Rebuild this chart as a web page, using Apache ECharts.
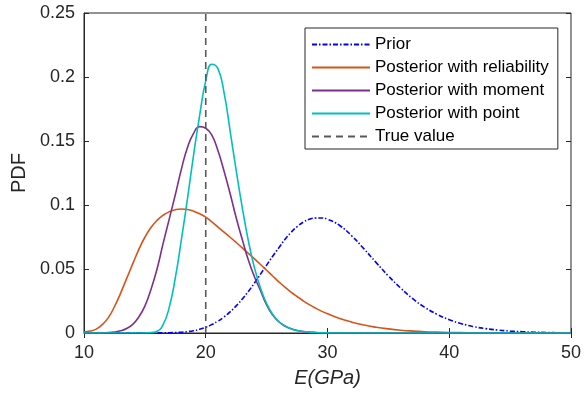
<!DOCTYPE html>
<html>
<head>
<meta charset="utf-8">
<script src="https://cdn.jsdelivr.net/npm/echarts@6/dist/echarts.min.js"></script>
<style>
  html, body { margin: 0; padding: 0; background: #ffffff; }
  #chart { width: 584px; height: 398px; }
</style>
</head>
<body>
<div id="chart"></div>
<script>
// Elastic modulus grid (GPa): 0.5 steps up to 30, then 1 GPa steps
const energyGPa = [
  10, 10.5, 11, 11.5, 12, 12.5, 13, 13.5, 14, 14.5,
  15, 15.5, 16, 16.5, 17, 17.5, 18, 18.5, 19, 19.5,
  20, 20.5, 21, 21.5, 22, 22.5, 23, 23.5, 24, 24.5,
  25, 25.5, 26, 26.5, 27, 27.5, 28, 28.5, 29, 29.5,
  30, 31, 32, 33, 34, 35, 36, 37, 38, 39,
  40, 41, 42, 43, 44, 45, 46, 47, 48, 49, 50
];

// Probability densities on the grid above
const priorPdf = [
  0, 0, 0, 0, 0, 0, 0, 0, 0, 0,
  0, 0, 0.0001, 0.0001, 0.0002, 0.0004, 0.0006, 0.0011, 0.0018, 0.0029,
  0.0045, 0.0066, 0.0092, 0.0125, 0.0165, 0.0212, 0.0265, 0.0325, 0.039, 0.046,
  0.053, 0.060, 0.0665, 0.073, 0.0785, 0.083, 0.0865, 0.0888, 0.0898, 0.0899,
  0.0888, 0.0840, 0.0758, 0.0657, 0.0550, 0.0446, 0.0352, 0.0268, 0.0200, 0.0146,
  0.0104, 0.0073, 0.0050, 0.0034, 0.0023, 0.0015, 0.0010, 0.0006, 0.0004, 0.0002, 0.0001
];

const reliabilityPdf = [
  0.0008, 0.0015, 0.003, 0.0065, 0.012, 0.0205, 0.031, 0.0425, 0.054, 0.0652,
  0.0748, 0.0824, 0.0880, 0.0920, 0.0947, 0.0963, 0.0969, 0.0965, 0.0951, 0.0932,
  0.0905, 0.0868, 0.0828, 0.0788, 0.0748, 0.0707, 0.0665, 0.0622, 0.0579, 0.0535,
  0.0490, 0.0445, 0.0400, 0.0358, 0.0320, 0.0285, 0.0252, 0.0222, 0.0195, 0.0171,
  0.0150, 0.0114, 0.0085, 0.0062, 0.0045, 0.0032, 0.0022, 0.0015, 0.0010, 0.0007,
  0.0004, 0.0003, 0.0002, 0.0001, 0, 0, 0, 0, 0, 0, 0
];

const momentPdf = [
  0, 0, 0, 0.0001, 0.0003, 0.0008, 0.0017, 0.0035, 0.0068, 0.0125,
  0.021, 0.034, 0.050, 0.070, 0.089, 0.108, 0.128, 0.145, 0.156, 0.1612,
  0.1600, 0.1545, 0.1425, 0.1265, 0.109, 0.090, 0.073, 0.057, 0.044, 0.033,
  0.022, 0.0140, 0.0088, 0.0055, 0.0033, 0.0020, 0.0012, 0.0007, 0.0004, 0.0002,
  0.0001, 0, 0, 0, 0, 0, 0, 0, 0, 0,
  0, 0, 0, 0, 0, 0, 0, 0, 0, 0, 0
];

const pointPdf = [
  0, 0, 0, 0, 0, 0, 0, 0, 0, 0,
  0, 0.0003, 0.0013, 0.0065, 0.020, 0.043, 0.073, 0.105, 0.139, 0.170,
  0.197, 0.2100, 0.2065, 0.188, 0.158, 0.127, 0.098, 0.072, 0.051, 0.035,
  0.023, 0.0145, 0.0090, 0.0056, 0.0034, 0.0020, 0.0012, 0.0007, 0.0004, 0.0002,
  0.0001, 0, 0, 0, 0, 0, 0, 0, 0, 0,
  0, 0, 0, 0, 0, 0, 0, 0, 0, 0, 0
];

const trueValue = 20;
const trueValueSpan = [0, 0.25];

const seriesNames = [
  'Prior',
  'Posterior with reliability',
  'Posterior with moment',
  'Posterior with point',
  'True value'
];

const xTickLabels = ['10', '20', '30', '40', '50'];
const yTickLabels = ['0', '0.05', '0.1', '0.15', '0.2', '0.25'];

const FONT = 'Liberation Sans, Arial, Helvetica, sans-serif';
const AXIS_COLOR = '#262626';

function pairs(values) {
  return energyGPa.map((e, i) => [e, values[i]]);
}

function curve(name, values, color, type) {
  return {
    name: name,
    type: 'line',
    data: pairs(values),
    smooth: 0.5,
    symbol: 'none',
    showSymbol: false,
    lineStyle: { color: color, width: 1.6, type: type || 'solid' },
    itemStyle: { color: color },
    emphasis: { disabled: true },
    silent: true,
    animation: false
  };
}

const hiddenTickAxis = {
  axisLine: { show: false },
  axisLabel: { show: false },
  splitLine: { show: false },
  axisTick: { show: true, inside: true, length: 5, lineStyle: { color: AXIS_COLOR, width: 1 } }
};

const chart = echarts.init(document.getElementById('chart'), null, { renderer: 'canvas' });

chart.setOption({
  animation: false,
  backgroundColor: '#ffffff',
  grid: {
    left: 84, right: 11, top: 13, bottom: 65,
    show: true, borderColor: AXIS_COLOR, borderWidth: 1, backgroundColor: '#ffffff'
  },
  legend: {
    data: seriesNames,
    orient: 'vertical',
    left: 305,
    top: 28,
    padding: [8, 9, 4, 6],
    itemWidth: 58,
    itemHeight: 14,
    itemGap: 6,
    borderColor: AXIS_COLOR,
    borderWidth: 1,
    backgroundColor: '#ffffff',
    selectedMode: false,
    itemStyle: { opacity: 0 },
    textStyle: { fontFamily: FONT, fontSize: 17, color: '#000000', lineHeight: 17 }
  },
  xAxis: [
    {
      type: 'value',
      min: 10, max: 50, interval: 10,
      name: 'E(GPa)',
      nameLocation: 'middle',
      nameGap: 35,
      nameTextStyle: { fontFamily: FONT, fontSize: 20, fontStyle: 'italic', color: AXIS_COLOR },
      axisLine: { show: true, onZero: false, lineStyle: { color: AXIS_COLOR, width: 1 } },
      axisTick: { show: true, inside: true, length: 5, lineStyle: { color: AXIS_COLOR, width: 1 } },
      axisLabel: {
        fontFamily: FONT, fontSize: 18, color: AXIS_COLOR, margin: 11,
        formatter: v => xTickLabels[Math.round((v - 10) / 10)]
      },
      splitLine: { show: false }
    },
    Object.assign({ type: 'value', position: 'top', min: 10, max: 50, interval: 10 }, hiddenTickAxis)
  ],
  yAxis: [
    {
      type: 'value',
      min: 0, max: 0.25, interval: 0.05,
      name: 'PDF',
      nameLocation: 'middle',
      nameGap: 53,
      nameTextStyle: { fontFamily: FONT, fontSize: 20, color: AXIS_COLOR },
      axisLine: { show: true, onZero: false, lineStyle: { color: AXIS_COLOR, width: 1 } },
      axisTick: { show: true, inside: true, length: 5, lineStyle: { color: AXIS_COLOR, width: 1 } },
      axisLabel: {
        fontFamily: FONT, fontSize: 18, color: AXIS_COLOR, margin: 9,
        formatter: v => yTickLabels[Math.round(v / 0.05)]
      },
      splitLine: { show: false }
    },
    Object.assign({ type: 'value', position: 'right', min: 0, max: 0.25, interval: 0.05 }, hiddenTickAxis)
  ],
  series: [
    curve(seriesNames[0], priorPdf, '#0000ff', [5, 2, 1.5, 2]),
    curve(seriesNames[1], reliabilityPdf, '#d95319'),
    curve(seriesNames[2], momentPdf, '#7e2f8e'),
    curve(seriesNames[3], pointPdf, '#00bfbf'),
    {
      name: seriesNames[4],
      type: 'line',
      data: trueValueSpan.map(y => [trueValue, y]),
      symbol: 'none',
      showSymbol: false,
      lineStyle: { color: '#595959', width: 1.6, type: [7, 5] },
      itemStyle: { color: '#595959' },
      emphasis: { disabled: true },
      silent: true,
      animation: false
    }
  ]
});
</script>
</body>
</html>
